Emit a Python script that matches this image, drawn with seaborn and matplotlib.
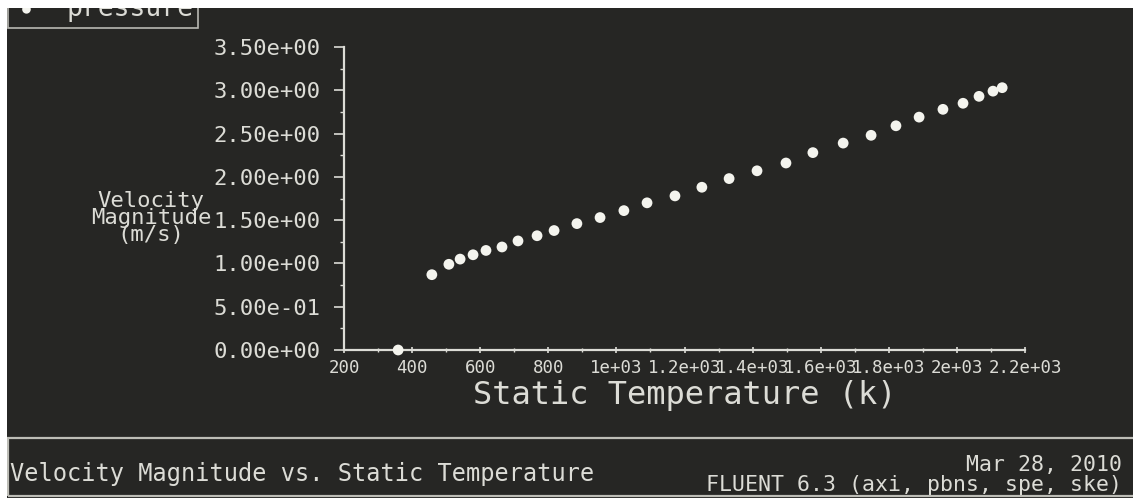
#!/usr/bin/env python3
"""
Recreate a FLUENT xy-plot: Velocity Magnitude vs. Static Temperature.
"""
import pandas as pd
import matplotlib
matplotlib.use("Agg")
import matplotlib.pyplot as plt
from matplotlib.patches import Rectangle
from matplotlib.ticker import FixedLocator, MultipleLocator, FuncFormatter
import seaborn as sns

# Data
static_temp = [359, 458, 508, 541, 579, 617, 664, 711, 767, 817, 884, 952,
               1022, 1090, 1172, 1251, 1331, 1413, 1498, 1577, 1666, 1748,
               1821, 1889, 1959, 2018, 2065, 2106, 2133]
velocity_mag = [0.0, 0.87, 0.99, 1.05, 1.10, 1.15, 1.19, 1.26, 1.32, 1.38,
                1.46, 1.53, 1.61, 1.70, 1.78, 1.88, 1.98, 2.07, 2.16, 2.28,
                2.39, 2.48, 2.59, 2.69, 2.78, 2.85, 2.93, 2.99, 3.03]
x_ticks = [200, 400, 600, 800, 1000, 1200, 1400, 1600, 1800, 2000, 2200]
x_tick_labels = ["200", "400", "600", "800", "1e+03", "1.2e+03", "1.4e+03",
                 "1.6e+03", "1.8e+03", "2e+03", "2.2e+03"]
y_ticks = [0.0, 0.5, 1.0, 1.5, 2.0, 2.5, 3.0, 3.5]
series_name = "pressure"
plot_title = "Velocity Magnitude vs. Static Temperature"
plot_date = "Mar 28, 2010"
solver_info = "FLUENT 6.3 (axi, pbns, spe, ske)"

BG = "#262624"
FG = "#dcdcd6"
DOT = "#f4f4ee"
MONO = ["DejaVu Sans Mono"]

sns.set_theme(style="dark", rc={"axes.facecolor": BG, "figure.facecolor": BG})
plt.rcParams["font.family"] = MONO

df = pd.DataFrame({"temp": static_temp, "vel": velocity_mag})

W, H = 1133, 498
fig = plt.figure(figsize=(W / 100, H / 100), dpi=100)
fig.patch.set_facecolor(BG)

def px(x, y):
    """pixel coords (top-left origin) -> figure fraction"""
    return x / W, 1 - y / H

left, top = px(344, 47)
right, bottom = px(1025, 350)
ax = fig.add_axes([left, bottom, right - left, top - bottom])
ax.set_facecolor(BG)

sns.scatterplot(data=df, x="temp", y="vel", ax=ax, color=DOT, s=60,
                edgecolor="none", label=series_name, clip_on=False, zorder=3)

ax.set_xlim(200, 2200)
ax.set_ylim(0, 3.5)

for side in ["top", "right"]:
    ax.spines[side].set_visible(False)
for side in ["left", "bottom"]:
    ax.spines[side].set_color(FG)
    ax.spines[side].set_linewidth(1.6)

ax.xaxis.set_major_locator(FixedLocator(x_ticks))
ax.set_xticklabels(x_tick_labels)
ax.xaxis.set_minor_locator(MultipleLocator(100))
ax.yaxis.set_major_locator(FixedLocator(y_ticks))
ax.yaxis.set_major_formatter(FuncFormatter(lambda v, p: f"{v:.2e}"))
ax.yaxis.set_minor_locator(MultipleLocator(0.25))

ax.tick_params(axis="x", which="major", direction="inout", length=5, width=1.2,
               color=FG, labelcolor=FG, labelsize=12.5, pad=4, bottom=True)
ax.tick_params(axis="x", which="minor", direction="inout", length=3, width=1,
               color=FG, bottom=True)
ax.tick_params(axis="y", which="major", direction="out", length=7, width=1.2,
               color=FG, labelcolor=FG, labelsize=16, pad=10, left=True)
ax.tick_params(axis="y", which="minor", direction="out", length=3, width=1,
               color=FG, left=True)
ax.grid(False)

ax.set_xlabel("Static Temperature (k)", color=FG, fontsize=23, va="center")
ax.xaxis.set_label_coords(0.5, -0.149)
ax.set_ylabel("Velocity\nMagnitude\n(m/s)", color=FG, fontsize=16, rotation=0,
              ha="right", va="center", multialignment="center", linespacing=0.8)
ax.yaxis.set_label_coords(-0.195, 0.435)

# legend box in the top-left corner, partly hidden by the page edge
leg = ax.legend(loc="upper left", bbox_to_anchor=(px(8, 0)[0], px(8, -9)[1]),
                bbox_transform=fig.transFigure, frameon=True, fontsize=19,
                handletextpad=1.0, borderpad=0.2, handlelength=1.0,
                markerscale=0.8, borderaxespad=0)
leg.get_frame().set_facecolor(BG)
leg.get_frame().set_edgecolor(FG)
leg.get_frame().set_linewidth(1.2)
leg.get_frame().set_boxstyle("square", pad=0)
for t in leg.get_texts():
    t.set_color(FG)

# footer panel
x0, y1 = px(8, 438)
_, y2 = px(8, 496)
fig.patches.append(Rectangle((x0, y2), 1 - x0 + 0.01, y1 - y2,
                             transform=fig.transFigure, fill=False,
                             edgecolor="#bdbdb6", linewidth=1.6, zorder=4))
fig.text(*px(10, 474), plot_title, color=FG, fontsize=17, ha="left", va="center")
fig.text(*px(1122, 465), plot_date, color=FG, fontsize=15.5, ha="right", va="center")
fig.text(*px(1122, 485), solver_info, color=FG, fontsize=15.5, ha="right", va="center")

# white page edge on the top and left
fig.patches.append(Rectangle((0, 1 - 8 / H), 1, 8 / H, transform=fig.transFigure,
                             facecolor="white", edgecolor="none", zorder=10))
fig.patches.append(Rectangle((0, 0), 7 / W, 1, transform=fig.transFigure,
                             facecolor="white", edgecolor="none", zorder=10))

fig.savefig("out.png", dpi=100, facecolor=BG)
